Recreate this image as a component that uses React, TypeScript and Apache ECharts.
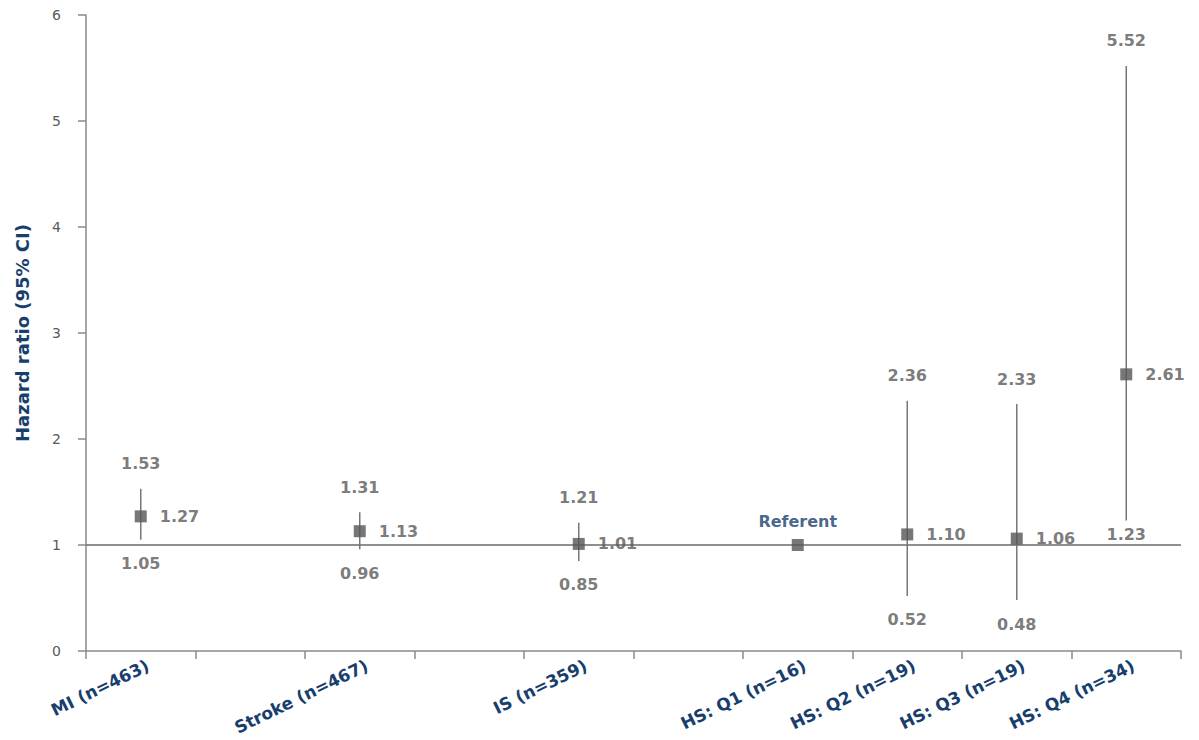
import React, { useEffect, useRef } from "react";
import * as echarts from "echarts";

// Category slots along the x axis; empty strings are spacer slots.
const categories = [
  "MI (n=463)",
  "",
  "Stroke (n=467)",
  "",
  "IS (n=359)",
  "",
  "HS: Q1 (n=16)",
  "HS: Q2 (n=19)",
  "HS: Q3 (n=19)",
  "HS: Q4 (n=34)",
];

// Hazard ratio point estimates and 95% CI bounds per slot.
const hazardRatio = [1.27, null, 1.13, null, 1.01, null, 1.0, 1.1, 1.06, 2.61];
const ciLower = [1.05, null, 0.96, null, 0.85, null, null, 0.52, 0.48, 1.23];
const ciUpper = [1.53, null, 1.31, null, 1.21, null, null, 2.36, 2.33, 5.52];

// Index of the reference group (no CI, labelled as referent).
const referentIndex = 6;
const referentLabel = "Referent";

const yTicks = { min: 0, max: 6, interval: 1 };

const FONT = "'DejaVu Sans', Verdana, sans-serif";
const GREY_TEXT = "#595959";
const NAVY = "#173E6D";
const MARK = "#555555";
const LINE = "#777777";

export default function App() {
  const ref = useRef<HTMLDivElement>(null);

  useEffect(() => {
    if (!ref.current) return;
    const chart = echarts.init(ref.current, undefined, { renderer: "svg" });

    const bars = categories
      .map((_, i) => [i, ciLower[i], ciUpper[i]])
      .filter((d) => d[1] != null && d[2] != null);

    const upperPts = categories
      .map((_, i) => (ciUpper[i] != null ? [i, ciUpper[i]] : null))
      .filter((d) => d);

    const lowerPts = categories
      .map((_, i) => {
        if (ciLower[i] == null) return null;
        const item: any = { value: [i, ciLower[i]] };
        // a lower bound sitting just above the reference line keeps its label above that line
        if (ciLower[i]! > 1.2) {
          item.label = { position: "bottom", distance: 6 };
        }
        return item;
      })
      .filter((d) => d);

    const points = categories
      .map((_, i) => {
        if (hazardRatio[i] == null) return null;
        const item: any = { value: [i, hazardRatio[i]] };
        if (i === referentIndex) {
          item.label = {
            position: "top",
            distance: 10,
            color: NAVY,
            formatter: referentLabel,
          };
        }
        return item;
      })
      .filter((d) => d);

    const fmt = (p: any) => (p.value[1] as number).toFixed(2);

    const valueLabel = {
      show: true,
      formatter: fmt,
      color: GREY_TEXT,
      fontFamily: FONT,
      fontWeight: "bold",
      fontSize: 16,
    };

    const option: any = {
      animation: false,
      grid: {
        left: 78,
        right: 10,
        top: 7,
        bottom: 89,
        containLabel: false,
        outerBoundsMode: "none",
      },
      xAxis: {
        type: "category",
        data: categories,
        boundaryGap: true,
        axisLine: { lineStyle: { color: "#8a8a8a", width: 1.5 } },
        axisTick: {
          show: true,
          alignWithLabel: false,
          interval: 0,
          length: 8,
          lineStyle: { color: "#8a8a8a", width: 1.5 },
        },
        axisLabel: {
          interval: 0,
          rotate: 26,
          margin: 17,
          padding: [0, -8, 0, 0],
          color: NAVY,
          fontFamily: FONT,
          fontWeight: "bold",
          fontSize: 17,
        },
        splitLine: { show: false },
      },
      yAxis: {
        type: "value",
        min: yTicks.min,
        max: yTicks.max,
        interval: yTicks.interval,
        name: "Hazard ratio (95% CI)",
        nameLocation: "middle",
        nameGap: 55,
        nameRotate: 90,
        nameTextStyle: {
          color: NAVY,
          fontFamily: FONT,
          fontWeight: "bold",
          fontSize: 18,
        },
        axisLine: { show: true, lineStyle: { color: "#8a8a8a", width: 1.5 } },
        axisTick: { show: true, length: 8, lineStyle: { color: "#8a8a8a", width: 1.5 } },
        axisLabel: {
          margin: 25,
          color: GREY_TEXT,
          fontFamily: FONT,
          fontSize: 14,
        },
        splitLine: { show: false },
      },
      series: [
        {
          type: "custom",
          data: bars,
          encode: { x: 0, y: [1, 2] },
          z: 2,
          renderItem: (params: any, api: any) => {
            const x = api.value(0);
            const lo = api.coord([x, api.value(1)]);
            const hi = api.coord([x, api.value(2)]);
            return {
              type: "line",
              shape: { x1: lo[0], y1: lo[1], x2: hi[0], y2: hi[1] },
              style: { stroke: LINE, lineWidth: 1.5 },
            };
          },
        },
        {
          type: "scatter",
          data: upperPts,
          symbolSize: 0,
          silent: true,
          label: { ...valueLabel, position: "top", distance: 17 },
        },
        {
          type: "scatter",
          data: lowerPts,
          symbolSize: 0,
          silent: true,
          label: { ...valueLabel, position: "bottom", distance: 16 },
        },
        {
          type: "scatter",
          data: points,
          symbol: "rect",
          symbolSize: 12,
          z: 5,
          itemStyle: { color: MARK },
          label: { ...valueLabel, position: "right", distance: 13 },
          markLine: {
            silent: true,
            symbol: "none",
            label: { show: false },
            lineStyle: { color: "#6a6a6a", width: 1.5, type: "solid" },
            data: [{ yAxis: 1 }],
            z: 1,
          },
        },
      ],
    };

    chart.setOption(option);
    return () => chart.dispose();
  }, []);

  return <div ref={ref} style={{ width: 1183, height: 732 }} />;
}
